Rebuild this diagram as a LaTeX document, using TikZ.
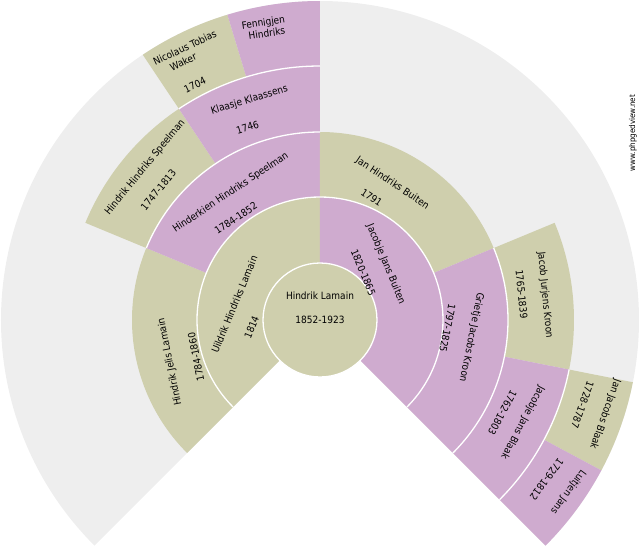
\documentclass[tikz,border=0pt]{standalone}
\usepackage{fontspec}
\setmainfont{DejaVu Sans Condensed}
\definecolor{fanmale}{RGB}{207,207,173}
\definecolor{fanfemale}{RGB}{207,171,207}
\definecolor{fanempty}{RGB}{238,238,238}
\tikzset{
  lbl/.style={font=\fontsize{10}{12}\selectfont, inner sep=0pt, text=black},
  gap/.style={draw=white, line width=1.3pt}
}
\begin{document}
\begin{tikzpicture}[x=1pt, y=1pt]
    \useasboundingbox (-320,-230) rectangle (320,320);
    \begin{scope}
      \def\rzero{57}
      \def\rone{123}
      \def\rtwo{188}
      \def\rthree{254}
      \def\rfour{319}
      % empty background of the fan
      \fill[fanempty] (0,0) -- (-45:\rfour) arc[start angle=-45, end angle=225, radius=\rfour] -- cycle;
      % parents
      \fill[fanmale] (90:\rzero) arc[start angle=90, end angle=225, radius=\rzero] -- (225:\rone) arc[start angle=225, end angle=90, radius=\rone] -- cycle;
      \fill[fanfemale] (-45:\rzero) arc[start angle=-45, end angle=90, radius=\rzero] -- (90:\rone) arc[start angle=90, end angle=-45, radius=\rone] -- cycle;
      % grandparents
      \fill[fanmale] (157.5:\rone) arc[start angle=157.5, end angle=225, radius=\rone] -- (225:\rtwo) arc[start angle=225, end angle=157.5, radius=\rtwo] -- cycle;
      \fill[fanfemale] (90:\rone) arc[start angle=90, end angle=157.5, radius=\rone] -- (157.5:\rtwo) arc[start angle=157.5, end angle=90, radius=\rtwo] -- cycle;
      \fill[fanmale] (22.5:\rone) arc[start angle=22.5, end angle=90, radius=\rone] -- (90:\rtwo) arc[start angle=90, end angle=22.5, radius=\rtwo] -- cycle;
      \fill[fanfemale] (-45:\rone) arc[start angle=-45, end angle=22.5, radius=\rone] -- (22.5:\rtwo) arc[start angle=22.5, end angle=-45, radius=\rtwo] -- cycle;
      % great-grandparents
      \fill[fanmale] (123.75:\rtwo) arc[start angle=123.75, end angle=157.5, radius=\rtwo] -- (157.5:\rthree) arc[start angle=157.5, end angle=123.75, radius=\rthree] -- cycle;
      \fill[fanfemale] (90:\rtwo) arc[start angle=90, end angle=123.75, radius=\rtwo] -- (123.75:\rthree) arc[start angle=123.75, end angle=90, radius=\rthree] -- cycle;
      \fill[fanmale] (-11.25:\rtwo) arc[start angle=-11.25, end angle=22.5, radius=\rtwo] -- (22.5:\rthree) arc[start angle=22.5, end angle=-11.25, radius=\rthree] -- cycle;
      \fill[fanfemale] (-45:\rtwo) arc[start angle=-45, end angle=-11.25, radius=\rtwo] -- (-11.25:\rthree) arc[start angle=-11.25, end angle=-45, radius=\rthree] -- cycle;
      % great-great-grandparents
      \fill[fanmale] (106.875:\rthree) arc[start angle=106.875, end angle=123.75, radius=\rthree] -- (123.75:\rfour) arc[start angle=123.75, end angle=106.875, radius=\rfour] -- cycle;
      \fill[fanfemale] (90:\rthree) arc[start angle=90, end angle=106.875, radius=\rthree] -- (106.875:\rfour) arc[start angle=106.875, end angle=90, radius=\rfour] -- cycle;
      \fill[fanmale] (-28.125:\rthree) arc[start angle=-28.125, end angle=-11.25, radius=\rthree] -- (-11.25:\rfour) arc[start angle=-11.25, end angle=-28.125, radius=\rfour] -- cycle;
      \fill[fanfemale] (-45:\rthree) arc[start angle=-45, end angle=-28.125, radius=\rthree] -- (-28.125:\rfour) arc[start angle=-28.125, end angle=-45, radius=\rfour] -- cycle;
      % white gaps between the rings
      \draw[gap] (-45:\rone) arc[start angle=-45, end angle=225, radius=\rone];
      \draw[gap] (90:\rtwo) arc[start angle=90, end angle=157.5, radius=\rtwo];
      \draw[gap] (-45:\rtwo) arc[start angle=-45, end angle=22.5, radius=\rtwo];
      \draw[gap] (90:\rthree) arc[start angle=90, end angle=123.75, radius=\rthree];
      \draw[gap] (-45:\rthree) arc[start angle=-45, end angle=-11.25, radius=\rthree];
      \fill[fanmale, gap] (0,0) circle (\rzero);
    \end{scope}
    % names and dates
    \node[lbl] (lamain) at (0,24.5) {Hindrik Lamain};
    \node[lbl] (lamain-d) at (0,0) {1852-1923};
    \node[lbl, rotate=67.5] (uildrik) at (169.6:87) {Uildrik Hindriks Lamain};
    \node[lbl, rotate=67.5] (uildrik-d) at (186:68.7) {1814};
    \node[lbl, rotate=-67.5] (jacobje) at (40.3:86.3) {Jacobje Jans Buiten};
    \node[lbl, rotate=-67.5] (jacobje-d) at (47.6:64.3) {1820-1865};
    \node[lbl, rotate=101.25] (hendrik) at (195.6:155.8) {Hindrik Jelis Lamain};
    \node[lbl, rotate=101.25] (hendrik-d) at (196.6:129.4) {1784-1860};
    \node[lbl, rotate=33.75] (hinderkien) at (125:155.6) {Hinderkien Hindriks Speelman};
    \node[lbl, rotate=33.75] (hinderkien-d) at (129.6:132) {1784-1852};
    \node[lbl, rotate=-33.75] (jan) at (62.1:154.7) {Jan Hindriks Buiten};
    \node[lbl, rotate=-33.75] (jan-d) at (67.1:133) {1791};
    \node[lbl, rotate=-101.25] (grietje) at (-6.5:152.3) {Grietje Jacobs Kroon};
    \node[lbl, rotate=-101.25] (grietje-d) at (-3.7:127.8) {1797-1825};
    \node[lbl, rotate=50.625] (speelman) at (138.9:232.1) {Hindrik Hindriks Speelman};
    \node[lbl, rotate=50.625] (speelman-d) at (141.2:207.5) {1747-1813};
    \node[lbl, rotate=16.875] (klaasje) at (107.8:231) {Klaasje Klaassens};
    \node[lbl, rotate=16.875] (klaasje-d) at (110.6:205.7) {1746};
    \node[lbl, rotate=-84.375] (jacob) at (6.3:226.4) {Jacob Jurjens Kroon};
    \node[lbl, rotate=-84.375] (jacob-d) at (7.3:203.3) {1765-1839};
    \node[lbl, rotate=-118.125] (blaak) at (-26.8:227) {Jacobje Jans Blaak};
    \node[lbl, rotate=-118.125] (blaak-d) at (-26.9:204.6) {1762-1803};
    \node[lbl, rotate=25.3125] (nicolaus) at (116.4:304) {Nicolaus Tobias};
    \node[lbl, rotate=25.3125] (nicolaus-2) at (117.9:292.3) {Waker};
    \node[lbl, rotate=25.3125] (nicolaus-d) at (118:266.2) {1704};
    \node[lbl, rotate=8.4375] (fennigjen) at (100.8:302) {Fennigjen};
    \node[lbl, rotate=8.4375] (fennigjen-2) at (100.5:291.6) {Hindriks};
    \node[lbl, rotate=-109.6875] (janjacobs) at (-18.3:300.2) {Jan Jacobs Blaak};
    \node[lbl, rotate=-109.6875] (janjacobs-d) at (-17.9:275.9) {1728-1787};
    \node[lbl, rotate=-126.5625] (luitjen) at (-34.7:301.9) {Luitjen Jans};
    \node[lbl, rotate=-126.5625] (luitjen-d) at (-35.1:277) {1729-1812};
    % site mark
    \node[lbl, font=\fontsize{8}{9}\selectfont, rotate=90] (site) at (313,187) {www.phpgedview.net};
  \end{tikzpicture}
\end{document}
